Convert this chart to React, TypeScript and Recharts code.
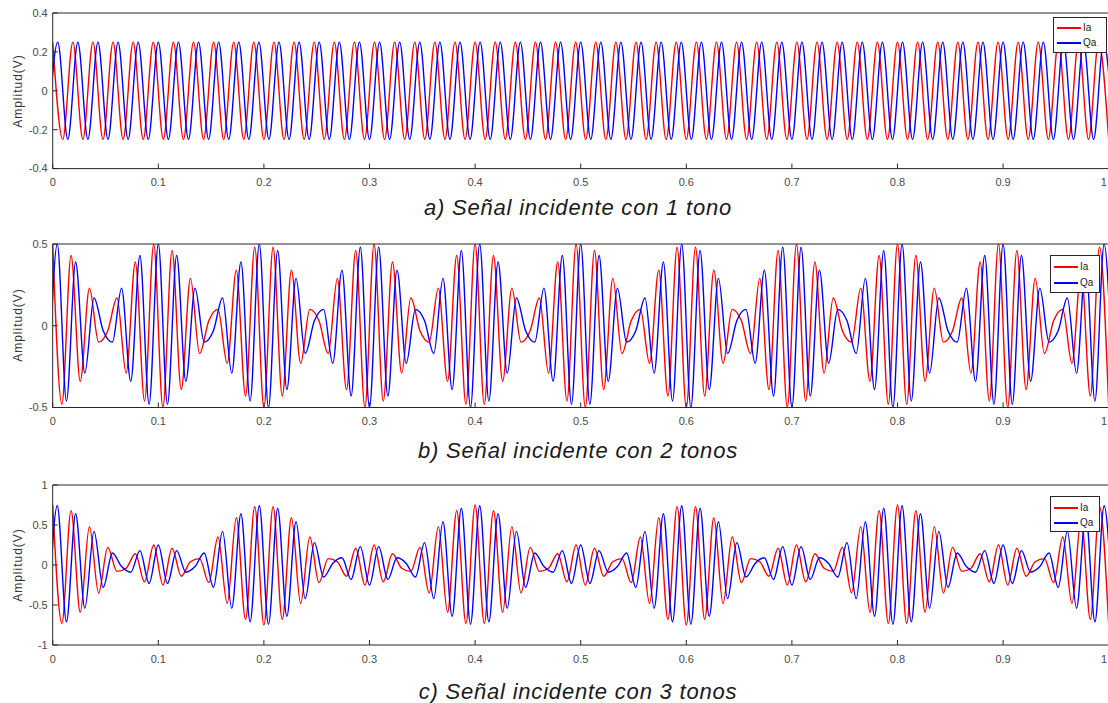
import { Legend, Line, LineChart, XAxis, YAxis } from "recharts";

const FONT = '"Liberation Sans", Arial, sans-serif';

const X_TICKS = [0, 0.1, 0.2, 0.3, 0.4, 0.5, 0.6, 0.7, 0.8, 0.9, 1];
const A_Y_TICKS = [-0.4, -0.2, 0, 0.2, 0.4];
const B_Y_TICKS = [-0.5, 0, 0.5];
const C_Y_TICKS = [-1, -0.5, 0, 0.5, 1];

const SERIES_NAMES = ["Ia", "Qa"];
const SERIES_COLORS = ["#ff0000", "#0000ff"];

const CAPTIONS = [
	"a) Señal incidente con 1 tono",
	"b) Señal incidente con 2 tonos",
	"c) Señal incidente con 3 tonos",
];

// one value per peak / trough.
// a) extrema every 1/105 s, b) and c) every 1/115 s.
// the Qa lists start half a step before t = 0 (Qa crosses zero at t = 0)
const A_STEP = 1 / 105;
const BC_STEP = 1 / 115;

const A_IA = [
	0.25, -0.25, 0.25, -0.25, 0.25, -0.25, 0.25, -0.25, 0.25, -0.25,
	0.25, -0.25, 0.25, -0.25, 0.25, -0.25, 0.25, -0.25, 0.25, -0.25,
	0.25, -0.25, 0.25, -0.25, 0.25, -0.25, 0.25, -0.25, 0.25, -0.25,
	0.25, -0.25, 0.25, -0.25, 0.25, -0.25, 0.25, -0.25, 0.25, -0.25,
	0.25, -0.25, 0.25, -0.25, 0.25, -0.25, 0.25, -0.25, 0.25, -0.25,
	0.25, -0.25, 0.25, -0.25, 0.25, -0.25, 0.25, -0.25, 0.25, -0.25,
	0.25, -0.25, 0.25, -0.25, 0.25, -0.25, 0.25, -0.25, 0.25, -0.25,
	0.25, -0.25, 0.25, -0.25, 0.25, -0.25, 0.25, -0.25, 0.25, -0.25,
	0.25, -0.25, 0.25, -0.25, 0.25, -0.25, 0.25, -0.25, 0.25, -0.25,
	0.25, -0.25, 0.25, -0.25, 0.25, -0.25, 0.25, -0.25, 0.25, -0.25,
	0.25, -0.25, 0.25, -0.25, 0.25, -0.25,
];

const A_QA = [
	-0.25, 0.25, -0.25, 0.25, -0.25, 0.25, -0.25, 0.25, -0.25, 0.25,
	-0.25, 0.25, -0.25, 0.25, -0.25, 0.25, -0.25, 0.25, -0.25, 0.25,
	-0.25, 0.25, -0.25, 0.25, -0.25, 0.25, -0.25, 0.25, -0.25, 0.25,
	-0.25, 0.25, -0.25, 0.25, -0.25, 0.25, -0.25, 0.25, -0.25, 0.25,
	-0.25, 0.25, -0.25, 0.25, -0.25, 0.25, -0.25, 0.25, -0.25, 0.25,
	-0.25, 0.25, -0.25, 0.25, -0.25, 0.25, -0.25, 0.25, -0.25, 0.25,
	-0.25, 0.25, -0.25, 0.25, -0.25, 0.25, -0.25, 0.25, -0.25, 0.25,
	-0.25, 0.25, -0.25, 0.25, -0.25, 0.25, -0.25, 0.25, -0.25, 0.25,
	-0.25, 0.25, -0.25, 0.25, -0.25, 0.25, -0.25, 0.25, -0.25, 0.25,
	-0.25, 0.25, -0.25, 0.25, -0.25, 0.25, -0.25, 0.25, -0.25, 0.25,
	-0.25, 0.25, -0.25, 0.25, -0.25, 0.25, -0.25,
];

const B_IA = [
	0.5, -0.48, 0.43, -0.34, 0.23, -0.1, -0.03, 0.17, -0.29, 0.39, -0.46, 0.5, -0.5, 0.46, -0.39, 0.29, -0.17, 0.03, 0.1, -0.23, 0.34, -0.43, 0.48,
	-0.5, 0.48, -0.43, 0.34, -0.23, 0.1, 0.03, -0.17, 0.29, -0.39, 0.46, -0.5, 0.5, -0.46, 0.39, -0.29, 0.17, -0.03, -0.1, 0.23, -0.34, 0.43, -0.48,
	0.5, -0.48, 0.43, -0.34, 0.23, -0.1, -0.03, 0.17, -0.29, 0.39, -0.46, 0.5, -0.5, 0.46, -0.39, 0.29, -0.17, 0.03, 0.1, -0.23, 0.34, -0.43, 0.48,
	-0.5, 0.48, -0.43, 0.34, -0.23, 0.1, 0.03, -0.17, 0.29, -0.39, 0.46, -0.5, 0.5, -0.46, 0.39, -0.29, 0.17, -0.03, -0.1, 0.23, -0.34, 0.43, -0.48,
	0.5, -0.48, 0.43, -0.34, 0.23, -0.1, -0.03, 0.17, -0.29, 0.39, -0.46, 0.5, -0.5, 0.46, -0.39, 0.29, -0.17, 0.03, 0.1, -0.23, 0.34, -0.43, 0.48,
	-0.5,
];

const B_QA = [
	-0.5,
	0.5, -0.46, 0.39, -0.29, 0.17, -0.03, -0.1, 0.23, -0.34, 0.43, -0.48, 0.5, -0.48, 0.43, -0.34, 0.23, -0.1, -0.03, 0.17, -0.29, 0.39, -0.46, 0.5,
	-0.5, 0.46, -0.39, 0.29, -0.17, 0.03, 0.1, -0.23, 0.34, -0.43, 0.48, -0.5, 0.48, -0.43, 0.34, -0.23, 0.1, 0.03, -0.17, 0.29, -0.39, 0.46, -0.5,
	0.5, -0.46, 0.39, -0.29, 0.17, -0.03, -0.1, 0.23, -0.34, 0.43, -0.48, 0.5, -0.48, 0.43, -0.34, 0.23, -0.1, -0.03, 0.17, -0.29, 0.39, -0.46, 0.5,
	-0.5, 0.46, -0.39, 0.29, -0.17, 0.03, 0.1, -0.23, 0.34, -0.43, 0.48, -0.5, 0.48, -0.43, 0.34, -0.23, 0.1, 0.03, -0.17, 0.29, -0.39, 0.46, -0.5,
	0.5, -0.46, 0.39, -0.29, 0.17, -0.03, -0.1, 0.23, -0.34, 0.43, -0.48, 0.5, -0.48, 0.43, -0.34, 0.23, -0.1, -0.03, 0.17, -0.29, 0.39, -0.46, 0.5,
	-0.5,
];

const C_IA = [
	0.75, -0.73, 0.68, -0.59, 0.48, -0.35, 0.22, -0.08, -0.04, 0.14, -0.21, 0.25, -0.25, 0.21, -0.14, 0.04, 0.08, -0.22, 0.35, -0.48, 0.59, -0.68, 0.73,
	-0.75, 0.73, -0.68, 0.59, -0.48, 0.35, -0.22, 0.08, 0.04, -0.14, 0.21, -0.25, 0.25, -0.21, 0.14, -0.04, -0.08, 0.22, -0.35, 0.48, -0.59, 0.68, -0.73,
	0.75, -0.73, 0.68, -0.59, 0.48, -0.35, 0.22, -0.08, -0.04, 0.14, -0.21, 0.25, -0.25, 0.21, -0.14, 0.04, 0.08, -0.22, 0.35, -0.48, 0.59, -0.68, 0.73,
	-0.75, 0.73, -0.68, 0.59, -0.48, 0.35, -0.22, 0.08, 0.04, -0.14, 0.21, -0.25, 0.25, -0.21, 0.14, -0.04, -0.08, 0.22, -0.35, 0.48, -0.59, 0.68, -0.73,
	0.75, -0.73, 0.68, -0.59, 0.48, -0.35, 0.22, -0.08, -0.04, 0.14, -0.21, 0.25, -0.25, 0.21, -0.14, 0.04, 0.08, -0.22, 0.35, -0.48, 0.59, -0.68, 0.73,
	-0.75,
];

const C_QA = [
	-0.74,
	0.74, -0.71, 0.64, -0.54, 0.42, -0.28, 0.15, -0.02, -0.09, 0.18, -0.23, 0.25, -0.23, 0.18, -0.09, -0.02, 0.15, -0.28, 0.42, -0.54, 0.64, -0.71, 0.74,
	-0.74, 0.71, -0.64, 0.54, -0.42, 0.28, -0.15, 0.02, 0.09, -0.18, 0.23, -0.25, 0.23, -0.18, 0.09, 0.02, -0.15, 0.28, -0.42, 0.54, -0.64, 0.71, -0.74,
	0.74, -0.71, 0.64, -0.54, 0.42, -0.28, 0.15, -0.02, -0.09, 0.18, -0.23, 0.25, -0.23, 0.18, -0.09, -0.02, 0.15, -0.28, 0.42, -0.54, 0.64, -0.71, 0.74,
	-0.74, 0.71, -0.64, 0.54, -0.42, 0.28, -0.15, 0.02, 0.09, -0.18, 0.23, -0.25, 0.23, -0.18, 0.09, 0.02, -0.15, 0.28, -0.42, 0.54, -0.64, 0.71, -0.74,
	0.74, -0.71, 0.64, -0.54, 0.42, -0.28, 0.15, -0.02, -0.09, 0.18, -0.23, 0.25, -0.23, 0.18, -0.09, -0.02, 0.15, -0.28, 0.42, -0.54, 0.64, -0.71, 0.74,
	-0.74,
];

interface Pt {
	t: number;
	v: number;
}

// time of each extremum from its index in the list
const toPoints = (values: number[], start: number, step: number): Pt[] =>
	values.map((v, i) => ({ t: start + i * step, v }));

const PLOT_LEFT = 52.7;
const PLOT_WIDTH = 1056;
const CHART_WIDTH = 1130;
const PAD_TOP = 10;
const PAD_BOTTOM = 30;
const Y_AXIS_W = 40;
const AXIS_COLOR = "#262626";
const TICK_STYLE = { fontSize: 11, fill: "#4a4a4a", fontFamily: FONT };

// x tick label; the last one ("1") sits on the page edge, so it is right-aligned
function XTick(props: any) {
	const { x, y, payload } = props;
	const last = payload.value === 1;
	return (
		<text
			x={last ? Math.min(x + 3, 1107) : x}
			y={y}
			dy="0.71em"
			textAnchor={last ? "end" : "middle"}
			{...TICK_STYLE}
		>
			{String(payload.value)}
		</text>
	);
}

interface Box {
	left: number;
	top: number;
	width: number;
	height: number;
}

interface PanelProps {
	top: number;
	height: number;
	domain: [number, number];
	yTicks: number[];
	ia: Pt[];
	qa: Pt[];
	caption: string;
	captionY: number;
	legend: Box;
}

function LegendBox({ box }: { box: Box }) {
	return (
		<div
			style={{
				width: box.width,
				height: box.height,
				boxSizing: "border-box",
				border: `1px solid ${AXIS_COLOR}`,
				background: "#fff",
				paddingTop: Math.round(box.height * 0.07),
				fontFamily: FONT,
				fontSize: 10,
				color: "#1a1a1a",
			}}
		>
			{SERIES_NAMES.map((name, i) => (
				<div
					key={name}
					style={{
						display: "flex",
						alignItems: "center",
						height: Math.round(box.height * 0.43),
					}}
				>
					<div
						style={{
							marginLeft: 3,
							width: 24,
							height: 2,
							background: SERIES_COLORS[i],
						}}
					/>
					<span style={{ marginLeft: 2, lineHeight: 1 }}>{name}</span>
				</div>
			))}
		</div>
	);
}

function Panel(p: PanelProps) {
	const chartTop = p.top - PAD_TOP;
	return (
		<>
			<div style={{ position: "absolute", left: 0, top: chartTop }}>
				<LineChart
					width={CHART_WIDTH}
					height={PAD_TOP + p.height + PAD_BOTTOM}
					margin={{
						top: PAD_TOP - 1,
						right: CHART_WIDTH - PLOT_LEFT - PLOT_WIDTH - 1,
						bottom: 0,
						left: PLOT_LEFT - Y_AXIS_W,
					}}
				>
					<XAxis
						dataKey="t"
						type="number"
						domain={[0, 1]}
						allowDataOverflow
						ticks={X_TICKS}
						interval={0}
						height={PAD_BOTTOM}
						tickSize={-5}
						tickMargin={15}
						stroke={AXIS_COLOR}
						tick={<XTick />}
					/>
					<XAxis
						xAxisId="top"
						orientation="top"
						dataKey="t"
						type="number"
						domain={[0, 1]}
						allowDataOverflow
						ticks={X_TICKS}
						interval={0}
						height={1}
						tickSize={-5}
						stroke={AXIS_COLOR}
						tick={false}
					/>
					<YAxis
						type="number"
						domain={p.domain}
						allowDataOverflow
						ticks={p.yTicks}
						interval={0}
						width={Y_AXIS_W}
						tickSize={-5}
						tickMargin={10}
						stroke={AXIS_COLOR}
						tick={TICK_STYLE}
						tickFormatter={(v: number) => String(v)}
					/>
					<YAxis
						yAxisId="right"
						orientation="right"
						type="number"
						domain={p.domain}
						allowDataOverflow
						ticks={p.yTicks}
						interval={0}
						width={1}
						tickSize={-5}
						stroke={AXIS_COLOR}
						tick={false}
					/>
					<Legend
						layout="horizontal"
						verticalAlign="middle"
						align="center"
						wrapperStyle={{
							left: p.legend.left,
							top: p.legend.top - chartTop,
							width: p.legend.width,
							height: p.legend.height,
						}}
						content={() => <LegendBox box={p.legend} />}
					/>
					<Line
						data={p.ia}
						dataKey="v"
						name={SERIES_NAMES[0]}
						type="monotone"
						stroke={SERIES_COLORS[0]}
						strokeWidth={1.4}
						dot={false}
						activeDot={false}
						isAnimationActive={false}
					/>
					<Line
						data={p.qa}
						dataKey="v"
						name={SERIES_NAMES[1]}
						type="monotone"
						stroke={SERIES_COLORS[1]}
						strokeWidth={1.4}
						dot={false}
						activeDot={false}
						isAnimationActive={false}
					/>
				</LineChart>
			</div>
			<div
				style={{
					position: "absolute",
					left: 18,
					top: p.top + p.height / 2,
					transform: "translate(-50%, -50%) rotate(-90deg)",
					whiteSpace: "nowrap",
					fontFamily: FONT,
					fontSize: 12,
					letterSpacing: 1,
					color: "#333",
				}}
			>
				Amplitud(V)
			</div>
			<div
				style={{
					position: "absolute",
					left: 578,
					top: p.captionY,
					transform: "translate(-50%, -50%)",
					whiteSpace: "nowrap",
					fontFamily: FONT,
					fontStyle: "italic",
					fontSize: 22,
					letterSpacing: 0.8,
					color: "#1a1a1a",
				}}
			>
				{p.caption}
			</div>
		</>
	);
}

export default function App() {
	return (
		<div
			style={{
				position: "absolute",
				left: 0,
				top: 0,
				width: 1108,
				height: 703,
				overflow: "hidden",
				background: "#fff",
			}}
		>
			<Panel
				top={12.7}
				height={155.6}
				domain={[-0.4, 0.4]}
				yTicks={A_Y_TICKS}
				ia={toPoints(A_IA, 0, A_STEP)}
				qa={toPoints(A_QA, -A_STEP / 2, A_STEP)}
				caption={CAPTIONS[0]}
				captionY={208}
				legend={{ left: 1053, top: 17, width: 54, height: 36 }}
			/>
			<Panel
				top={243.5}
				height={163.5}
				domain={[-0.5, 0.5]}
				yTicks={B_Y_TICKS}
				ia={toPoints(B_IA, 0, BC_STEP)}
				qa={toPoints(B_QA, -BC_STEP / 2, BC_STEP)}
				caption={CAPTIONS[1]}
				captionY={451}
				legend={{ left: 1050, top: 255, width: 50, height: 38 }}
			/>
			<Panel
				top={484.5}
				height={160}
				domain={[-1, 1]}
				yTicks={C_Y_TICKS}
				ia={toPoints(C_IA, 0, BC_STEP)}
				qa={toPoints(C_QA, -BC_STEP / 2, BC_STEP)}
				caption={CAPTIONS[2]}
				captionY={692}
				legend={{ left: 1050, top: 496, width: 50, height: 36 }}
			/>
		</div>
	);
}
